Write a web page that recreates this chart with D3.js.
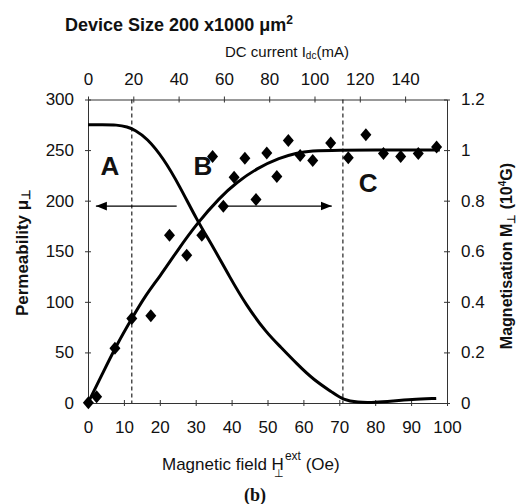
<!DOCTYPE html>
<html>
<head>
<meta charset="utf-8">
<script src="https://cdn.jsdelivr.net/npm/d3@7"></script>
<style>
  body { margin: 0; background: #fff; }
  svg text { font-family: "Liberation Sans", Arial, sans-serif; fill: #111; }
</style>
</head>
<body>
<div class="chart-area"></div>
<script>
// tick values for the four axes
var fieldTicks = [0, 10, 20, 30, 40, 50, 60, 70, 80, 90, 100];
var currentTicks = [0, 20, 40, 60, 80, 100, 120, 140];
var permTicks = [0, 50, 100, 150, 200, 250, 300];
var magTicks = [0, 0.2, 0.4, 0.6, 0.8, 1, 1.2];

// permeability fit curve (left axis)
var permH = [0, 4, 8, 11, 13, 16.4, 21, 25.6, 30.3, 34.9, 39.4, 44, 49.8, 53.5, 58.1, 62.8, 68.3, 71.1, 75, 80, 85, 90, 97];
var permMu = [275, 275, 275, 273, 270, 262, 242, 214, 181, 154, 125, 97, 69, 56, 39, 23, 10, 3, 0.5, 0.5, 2, 3.5, 4.5];

// magnetisation fit curve (right axis)
var magH = [0, 4, 8, 12.2, 16, 20, 25, 30.3, 36.8, 41.4, 47, 53.5, 58, 62, 70, 80, 90, 98];
var magM = [0, 0.115, 0.23, 0.334, 0.425, 0.5, 0.605, 0.709, 0.814, 0.872, 0.928, 0.97, 0.988, 0.997, 1, 1, 1, 1];

// measured magnetisation (diamonds)
var ptH = [0.1, 2.4, 7.5, 12.2, 17.5, 22.7, 27.5, 31.7, 34.7, 37.7, 40.7, 43.7, 46.8, 49.8, 52.6, 55.8, 59.1, 62.6, 67.6, 72.5, 77.4, 82.3, 87.1, 92.0, 97.1];
var ptM = [0.001, 0.025, 0.216, 0.334, 0.345, 0.663, 0.584, 0.663, 0.975, 0.778, 0.893, 0.968, 0.805, 0.988, 0.896, 1.038, 0.979, 0.959, 1.028, 0.970, 1.061, 0.986, 0.975, 0.986, 1.012];

// region boundaries (dashed) and annotations
var boundaries = [12.2, 71];
var regionNames = ["A", "B", "C"];
var regionH = [6.1, 32, 78];
var regionMu = [235, 235, 218];
var arrowFrom = [24.7, 38.6];
var arrowTo = [2.2, 67.9];
var arrowMu = 194.7;

var width = 519, height = 504;
var plotLeft = 88, plotRight = 447, plotTop = 99.5, plotBottom = 403;

var svg = d3.select(".chart-area").append("svg")
    .attr("width", width)
    .attr("height", height);

var x = d3.scaleLinear().domain([0, 100]).range([plotLeft, plotRight]);
var xTop = d3.scaleLinear().domain([0, 158.5]).range([plotLeft, plotRight]);
var yL = d3.scaleLinear().domain([0, 300]).range([plotBottom, plotTop]);
var yR = d3.scaleLinear().domain([0, 1.2]).range([plotBottom, plotTop]);

// axes
function styleAxis(g, vertical) {
    g.select(".domain").attr("stroke", "#333").attr("stroke-width", 1);
    g.selectAll(".tick line").attr("stroke", "#333")
        .attr(vertical ? "x1" : "y1", -3).attr(vertical ? "x2" : "y2", 3);
    g.selectAll(".tick text").attr("font-size", 17).attr("fill", "#111")
        .attr("font-family", "Liberation Sans, Arial, sans-serif");
}

var gB = svg.append("g").attr("transform", "translate(0," + plotBottom + ")")
    .call(d3.axisBottom(x).tickValues(fieldTicks).tickSizeOuter(0).tickPadding(12));
styleAxis(gB, false);

var gT = svg.append("g").attr("transform", "translate(0," + plotTop + ")")
    .call(d3.axisTop(xTop).tickValues(currentTicks).tickSizeOuter(0).tickPadding(9));
styleAxis(gT, false);

var gL = svg.append("g").attr("transform", "translate(" + plotLeft + ",0)")
    .call(d3.axisLeft(yL).tickValues(permTicks).tickSizeOuter(0).tickPadding(8));
styleAxis(gL, true);

var gR = svg.append("g").attr("transform", "translate(" + plotRight + ",0)")
    .call(d3.axisRight(yR).tickValues(magTicks).tickSizeOuter(0).tickPadding(8)
        .tickFormat(function(d) { return d3.format("~g")(d); }));
styleAxis(gR, true);

// dashed region boundaries
svg.selectAll(".bound").data(boundaries).enter().append("line")
    .attr("x1", function(d) { return x(d); })
    .attr("x2", function(d) { return x(d); })
    .attr("y1", plotTop).attr("y2", plotBottom)
    .attr("stroke", "#222").attr("stroke-width", 1.2)
    .attr("stroke-dasharray", "4,3");

// fit curves
var permLine = d3.line()
    .x(function(d, i) { return x(permH[i]); })
    .y(function(d) { return yL(d); })
    .curve(d3.curveBasis);
svg.append("path").attr("d", permLine(permMu))
    .attr("fill", "none").attr("stroke", "#000").attr("stroke-width", 3);

var magLine = d3.line()
    .x(function(d, i) { return x(magH[i]); })
    .y(function(d) { return yR(d); })
    .curve(d3.curveBasis);
svg.append("path").attr("d", magLine(magM))
    .attr("fill", "none").attr("stroke", "#000").attr("stroke-width", 3);

// diamonds
svg.selectAll(".pt").data(ptM).enter().append("path")
    .attr("transform", function(d, i) { return "translate(" + x(ptH[i]) + "," + yR(d) + ")"; })
    .attr("d", "M0,-6.5L5.5,0L0,6.5L-5.5,0Z")
    .attr("fill", "#000");

// arrows
svg.append("defs").append("marker")
    .attr("id", "head").attr("viewBox", "0 0 10 10")
    .attr("refX", 10).attr("refY", 5)
    .attr("markerWidth", 11).attr("markerHeight", 11)
    .attr("markerUnits", "userSpaceOnUse")
    .attr("orient", "auto")
    .append("path").attr("d", "M0,1L10,5L0,9Z").attr("fill", "#000");

svg.selectAll(".arrow").data(arrowFrom).enter().append("line")
    .attr("x1", function(d) { return x(d); })
    .attr("x2", function(d, i) { return x(arrowTo[i]); })
    .attr("y1", yL(arrowMu)).attr("y2", yL(arrowMu))
    .attr("stroke", "#000").attr("stroke-width", 1.3)
    .attr("marker-end", "url(#head)");

// region letters
svg.selectAll(".region").data(regionNames).enter().append("text")
    .attr("x", function(d, i) { return x(regionH[i]); })
    .attr("y", function(d, i) { return yL(regionMu[i]); })
    .attr("dy", "0.36em")
    .attr("text-anchor", "middle")
    .attr("font-size", 26).attr("font-weight", "bold")
    .text(function(d) { return d; });

// titles
var t1 = svg.append("text").attr("x", 65).attr("y", 31)
    .attr("font-size", 18).attr("font-weight", "bold");
t1.append("tspan").text("Device Size 200 x1000 \u03bcm");
t1.append("tspan").attr("dy", -7).attr("font-size", 12).text("2");

var t2 = svg.append("text").attr("x", 225).attr("y", 57).attr("font-size", 15);
t2.append("tspan").text("DC current I");
t2.append("tspan").attr("font-size", 10).attr("dy", 2).text("dc");
t2.append("tspan").attr("dy", -2).text("(mA)");

var t3 = svg.append("text").attr("x", 162).attr("y", 470).attr("font-size", 17);
t3.append("tspan").text("Magnetic field H");
t3.append("tspan").attr("font-size", 11).attr("dx", -10).attr("dy", 7).text("\u22a5");
t3.append("tspan").attr("font-size", 12).attr("dx", 1).attr("dy", -17).text("ext");
t3.append("tspan").attr("dy", 10).text(" (Oe)");

svg.append("text").attr("x", 255).attr("y", 501)
    .attr("text-anchor", "middle")
    .style("font-family", "Liberation Serif, serif")
    .attr("font-size", 18).attr("font-weight", "bold")
    .text("(b)");

var t4 = svg.append("text")
    .attr("transform", "translate(28,253) rotate(-90)")
    .attr("text-anchor", "middle")
    .attr("font-size", 17).attr("font-weight", "bold");
t4.append("tspan").text("Permeability \u03bc");
t4.append("tspan").attr("font-size", 12).attr("dy", 2).text("\u22a5");

var t5 = svg.append("text")
    .attr("transform", "translate(512,256) rotate(-90)")
    .attr("text-anchor", "middle")
    .attr("font-size", 16).attr("font-weight", "bold");
t5.append("tspan").text("Magnetisation  M");
t5.append("tspan").attr("font-size", 11).attr("dy", 3).text("\u22a5");
t5.append("tspan").attr("dy", -3).text(" (10");
t5.append("tspan").attr("font-size", 10).attr("dy", -6).text("4");
t5.append("tspan").attr("dy", 6).text("G)");
</script>
</body>
</html>
